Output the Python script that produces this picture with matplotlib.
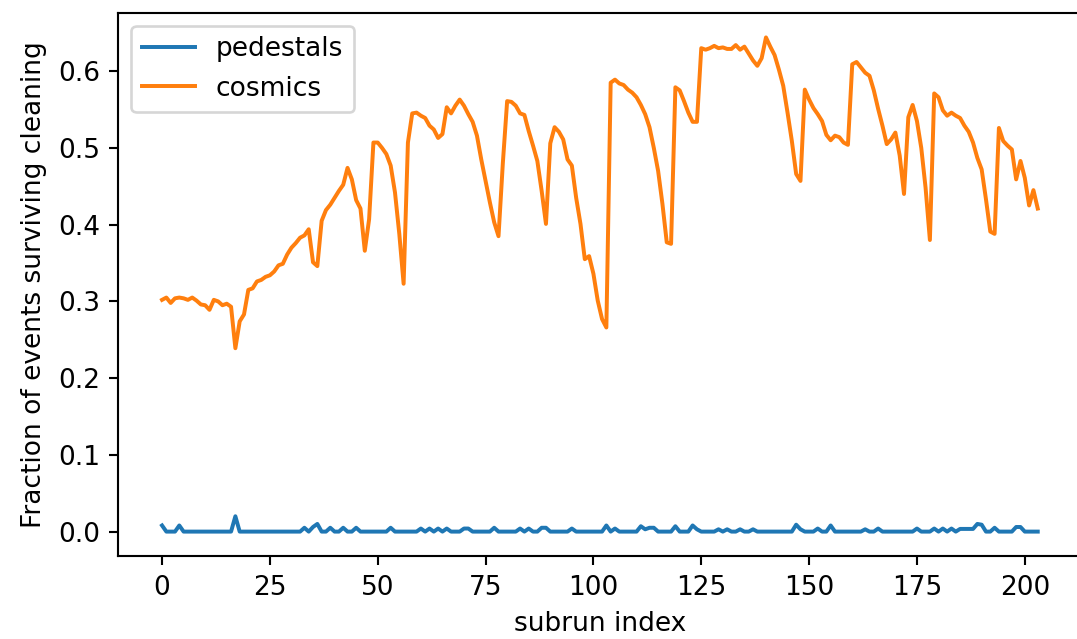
import matplotlib
matplotlib.use("Agg")
import matplotlib.pyplot as plt
import numpy as np

# Fraction of events surviving cleaning, one value per subrun
pedestals = [
    0.008, 0, 0, 0, 0.008, 0, 0, 0, 0, 0,
    0, 0, 0, 0, 0, 0, 0, 0.020, 0, 0,
    0, 0, 0, 0, 0, 0, 0, 0, 0, 0,
    0, 0, 0, 0.005, 0, 0.006, 0.010, 0, 0, 0.005,
    0, 0, 0.005, 0, 0, 0.005, 0, 0, 0, 0,
    0, 0, 0, 0.005, 0, 0, 0, 0, 0, 0,
    0.004, 0, 0.004, 0, 0.004, 0, 0.004, 0, 0, 0,
    0.004, 0.004, 0, 0, 0, 0, 0, 0.005, 0, 0,
    0, 0, 0, 0.004, 0, 0.004, 0, 0, 0.005, 0.005,
    0, 0, 0, 0, 0, 0.004, 0, 0, 0, 0,
    0, 0, 0, 0.008, 0, 0.004, 0, 0, 0, 0,
    0, 0.007, 0.003, 0.005, 0.005, 0, 0, 0, 0, 0.007,
    0, 0, 0, 0.008, 0.003, 0, 0, 0, 0, 0.003,
    0, 0.003, 0, 0, 0.003, 0, 0, 0.003, 0, 0,
    0, 0, 0, 0, 0, 0, 0, 0.009, 0.003, 0,
    0, 0, 0.004, 0, 0, 0.008, 0, 0, 0, 0,
    0, 0, 0, 0.003, 0, 0, 0.004, 0, 0, 0,
    0, 0, 0, 0, 0, 0.004, 0, 0, 0, 0.004,
    0, 0.004, 0, 0.004, 0, 0.0035, 0.0035, 0.0035, 0.0035, 0.010,
    0.009, 0, 0, 0.005, 0, 0, 0, 0, 0.006, 0.006,
    0, 0, 0, 0,
]

cosmics = [
    0.302, 0.305, 0.298, 0.304, 0.305, 0.304, 0.302, 0.305, 0.301, 0.296,
    0.295, 0.289, 0.302, 0.300, 0.295, 0.297, 0.293, 0.239, 0.274, 0.283,
    0.315, 0.317, 0.326, 0.328, 0.332, 0.334, 0.339, 0.347, 0.349, 0.361,
    0.370, 0.376, 0.383, 0.386, 0.394, 0.351, 0.346, 0.405, 0.419, 0.426,
    0.435, 0.444, 0.452, 0.474, 0.459, 0.432, 0.421, 0.366, 0.407, 0.507,
    0.507, 0.500, 0.492, 0.477, 0.442, 0.388, 0.323, 0.507, 0.545, 0.546,
    0.542, 0.539, 0.529, 0.524, 0.513, 0.518, 0.553, 0.545, 0.555, 0.563,
    0.555, 0.544, 0.534, 0.516, 0.485, 0.457, 0.429, 0.403, 0.385, 0.480,
    0.561, 0.560, 0.555, 0.545, 0.543, 0.522, 0.503, 0.483, 0.444, 0.401,
    0.506, 0.527, 0.521, 0.511, 0.485, 0.477, 0.435, 0.401, 0.355, 0.359,
    0.336, 0.301, 0.277, 0.266, 0.585, 0.589, 0.584, 0.582, 0.576, 0.572,
    0.566, 0.556, 0.544, 0.527, 0.500, 0.470, 0.427, 0.377, 0.375, 0.579,
    0.575, 0.561, 0.546, 0.534, 0.534, 0.630, 0.628, 0.630, 0.633, 0.630,
    0.631, 0.629, 0.629, 0.634, 0.628, 0.632, 0.623, 0.614, 0.607, 0.617,
    0.644, 0.632, 0.621, 0.602, 0.581, 0.546, 0.509, 0.466, 0.457, 0.576,
    0.563, 0.552, 0.544, 0.535, 0.517, 0.510, 0.516, 0.514, 0.507, 0.504,
    0.609, 0.612, 0.605, 0.598, 0.594, 0.575, 0.551, 0.529, 0.505, 0.511,
    0.520, 0.490, 0.440, 0.540, 0.556, 0.535, 0.500, 0.448, 0.380, 0.571,
    0.566, 0.549, 0.542, 0.546, 0.542, 0.539, 0.529, 0.521, 0.507, 0.487,
    0.472, 0.433, 0.391, 0.388, 0.526, 0.509, 0.503, 0.498, 0.459, 0.483,
    0.461, 0.425, 0.445, 0.421,
]

subruns = np.arange(len(cosmics))

DPI = 190
fig = plt.figure(figsize=(1077 / DPI, 639 / DPI), dpi=DPI)
# axes run slightly past the right edge, as in the reference crop
ax = fig.add_axes([0.1098, 0.1294, 0.8944, 0.8507])

ax.plot(subruns, pedestals, label="pedestals")
ax.plot(subruns, cosmics, label="cosmics")

ax.set_xlabel("subrun index")
ax.set_ylabel("Fraction of events surviving cleaning")
ax.legend(loc="upper left")

fig.savefig("out.png", dpi=DPI)
